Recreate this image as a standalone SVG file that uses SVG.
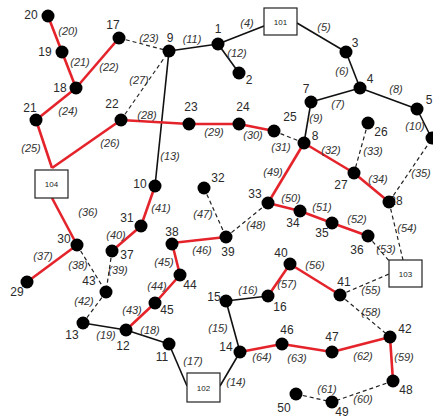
<svg xmlns="http://www.w3.org/2000/svg" width="433" height="420" viewBox="0 0 433 420">
<style>
.bg{fill:#fff}
.k{stroke:#111;stroke-width:1.6;fill:none}
.r{stroke:#e4232b;stroke-width:2.6;fill:none}
.d{stroke:#222;stroke-width:1.2;stroke-dasharray:4,3;fill:none}
.n{fill:#000}
.nl{font-family:"Liberation Sans",Arial,sans-serif;font-size:12px;fill:#2a2a2a;text-anchor:middle}
.el{font-family:"Liberation Sans",Arial,sans-serif;font-size:11px;font-style:italic;fill:#333;text-anchor:middle}
.bx{fill:#fff;stroke:#222;stroke-width:1.2}
.bt{font-family:"Liberation Sans",Arial,sans-serif;font-size:8px;fill:#222;text-anchor:middle}
</style>
<rect class="bg" x="0" y="0" width="433" height="420"/>
<g id="connectors">
<line class="k" x1="218" y1="44" x2="264" y2="26"/>
<line class="k" x1="297" y1="23" x2="346" y2="52"/>
<line class="k" x1="346" y1="52" x2="360" y2="88"/>
<line class="k" x1="360" y1="88" x2="311" y2="102"/>
<line class="k" x1="360" y1="88" x2="417" y2="109"/>
<line class="k" x1="311" y1="102" x2="304" y2="143"/>
<line class="k" x1="417" y1="109" x2="431" y2="137"/>
<line class="k" x1="169" y1="51" x2="218" y2="44"/>
<line class="k" x1="218" y1="44" x2="239" y2="73"/>
<line class="k" x1="169" y1="51" x2="155" y2="186"/>
<line class="k" x1="220" y1="386" x2="240" y2="352"/>
<line class="k" x1="226" y1="301" x2="240" y2="352"/>
<line class="k" x1="226" y1="301" x2="268" y2="296"/>
<line class="k" x1="169" y1="344" x2="187" y2="386"/>
<line class="k" x1="126" y1="330" x2="169" y2="344"/>
<line class="k" x1="83" y1="323" x2="126" y2="330"/>
<line class="r" x1="48" y1="16" x2="62" y2="52"/>
<line class="r" x1="62" y1="52" x2="76" y2="88"/>
<line class="r" x1="76" y1="88" x2="119" y2="38"/>
<line class="r" x1="76" y1="88" x2="36" y2="120"/>
<line class="r" x1="36" y1="120" x2="52" y2="168"/>
<line class="r" x1="52" y1="168" x2="121" y2="120"/>
<line class="r" x1="121" y1="120" x2="189" y2="124"/>
<line class="r" x1="189" y1="124" x2="239" y2="124"/>
<line class="r" x1="239" y1="124" x2="274" y2="131"/>
<line class="r" x1="304" y1="143" x2="354" y2="173"/>
<line class="r" x1="354" y1="173" x2="389" y2="202"/>
<line class="r" x1="52" y1="198" x2="77" y2="245"/>
<line class="r" x1="77" y1="245" x2="27" y2="282"/>
<line class="r" x1="141" y1="226" x2="112" y2="251"/>
<line class="r" x1="155" y1="186" x2="141" y2="226"/>
<line class="r" x1="126" y1="330" x2="155" y2="303"/>
<line class="r" x1="155" y1="303" x2="180" y2="275"/>
<line class="r" x1="180" y1="275" x2="172" y2="243"/>
<line class="r" x1="172" y1="243" x2="226" y2="237"/>
<line class="r" x1="304" y1="143" x2="268" y2="203"/>
<line class="r" x1="268" y1="203" x2="300" y2="211"/>
<line class="r" x1="300" y1="211" x2="332" y2="223"/>
<line class="r" x1="332" y1="223" x2="368" y2="236"/>
<line class="r" x1="290" y1="264" x2="340" y2="295"/>
<line class="r" x1="290" y1="264" x2="268" y2="296"/>
<line class="r" x1="390" y1="337" x2="393" y2="381"/>
<line class="r" x1="390" y1="337" x2="332" y2="352"/>
<line class="r" x1="332" y1="352" x2="282" y2="344"/>
<line class="r" x1="282" y1="344" x2="240" y2="352"/>
<line class="d" x1="119" y1="38" x2="169" y2="51"/>
<line class="d" x1="121" y1="120" x2="169" y2="51"/>
<line class="d" x1="274" y1="131" x2="304" y2="143"/>
<line class="d" x1="368" y1="123" x2="354" y2="173"/>
<line class="d" x1="431" y1="140" x2="389" y2="202"/>
<line class="d" x1="77" y1="245" x2="106" y2="292"/>
<line class="d" x1="112" y1="251" x2="106" y2="292"/>
<line class="d" x1="106" y1="292" x2="83" y2="323"/>
<line class="d" x1="204" y1="188" x2="226" y2="237"/>
<line class="d" x1="226" y1="237" x2="268" y2="203"/>
<line class="d" x1="368" y1="236" x2="390" y2="262"/>
<line class="d" x1="389" y1="202" x2="403" y2="260"/>
<line class="d" x1="340" y1="295" x2="389" y2="274"/>
<line class="d" x1="340" y1="295" x2="390" y2="337"/>
<line class="d" x1="393" y1="381" x2="332" y2="402"/>
<line class="d" x1="296" y1="394" x2="332" y2="402"/>
<text class="el" x="247" y="27">(4)</text>
<text class="el" x="324" y="31">(5)</text>
<text class="el" x="342" y="75">(6)</text>
<text class="el" x="338" y="108">(7)</text>
<text class="el" x="396" y="93">(8)</text>
<text class="el" x="316" y="122">(9)</text>
<text class="el" x="415" y="130">(10)</text>
<text class="el" x="192" y="43">(11)</text>
<text class="el" x="237" y="57">(12)</text>
<text class="el" x="170" y="160">(13)</text>
<text class="el" x="236" y="386">(14)</text>
<text class="el" x="218" y="332">(15)</text>
<text class="el" x="248" y="294">(16)</text>
<text class="el" x="193" y="365">(17)</text>
<text class="el" x="150" y="334">(18)</text>
<text class="el" x="106" y="339">(19)</text>
<text class="el" x="68" y="35">(20)</text>
<text class="el" x="80" y="66">(21)</text>
<text class="el" x="109" y="71">(22)</text>
<text class="el" x="149" y="42">(23)</text>
<text class="el" x="68" y="115">(24)</text>
<text class="el" x="31" y="152">(25)</text>
<text class="el" x="110" y="147">(26)</text>
<text class="el" x="139" y="84">(27)</text>
<text class="el" x="147" y="119">(28)</text>
<text class="el" x="214" y="136">(29)</text>
<text class="el" x="253" y="139">(30)</text>
<text class="el" x="281" y="151">(31)</text>
<text class="el" x="331" y="154">(32)</text>
<text class="el" x="373" y="155">(33)</text>
<text class="el" x="378" y="183">(34)</text>
<text class="el" x="421" y="177">(35)</text>
<text class="el" x="88" y="216">(36)</text>
<text class="el" x="43" y="260">(37)</text>
<text class="el" x="78" y="269">(38)</text>
<text class="el" x="118" y="274">(39)</text>
<text class="el" x="116" y="239">(40)</text>
<text class="el" x="161" y="212">(41)</text>
<text class="el" x="84" y="305">(42)</text>
<text class="el" x="132" y="314">(43)</text>
<text class="el" x="157" y="290">(44)</text>
<text class="el" x="164" y="266">(45)</text>
<text class="el" x="202" y="254">(46)</text>
<text class="el" x="203" y="218">(47)</text>
<text class="el" x="256" y="229">(48)</text>
<text class="el" x="273" y="176">(49)</text>
<text class="el" x="291" y="202">(50)</text>
<text class="el" x="322" y="211">(51)</text>
<text class="el" x="357" y="223">(52)</text>
<text class="el" x="386" y="253">(53)</text>
<text class="el" x="407" y="232">(54)</text>
<text class="el" x="371" y="294">(55)</text>
<text class="el" x="315" y="269">(56)</text>
<text class="el" x="287" y="288">(57)</text>
<text class="el" x="371" y="316">(58)</text>
<text class="el" x="404" y="361">(59)</text>
<text class="el" x="363" y="403">(60)</text>
<text class="el" x="327" y="393">(61)</text>
<text class="el" x="363" y="360">(62)</text>
<text class="el" x="297" y="362">(63)</text>
<text class="el" x="262" y="361">(64)</text>
</g>
<g id="box101"><rect class="bx" x="264" y="8" width="33" height="27"/><text class="bt" x="280.5" y="24.5">101</text></g>
<g id="box102"><rect class="bx" x="187" y="373" width="33" height="29"/><text class="bt" x="203.5" y="390.5">102</text></g>
<g id="box103"><rect class="bx" x="389" y="260" width="33" height="27"/><text class="bt" x="405.5" y="276.5">103</text></g>
<g id="box104"><rect class="bx" x="35" y="170" width="33" height="28"/><text class="bt" x="51.5" y="187">104</text></g>
<g id="node1"><circle class="n" cx="218" cy="44" r="6.5"/><text class="nl" x="218" y="33">1</text></g>
<g id="node2"><circle class="n" cx="239" cy="73" r="6.5"/><text class="nl" x="249" y="84">2</text></g>
<g id="node3"><circle class="n" cx="346" cy="52" r="6.5"/><text class="nl" x="355" y="47">3</text></g>
<g id="node4"><circle class="n" cx="360" cy="88" r="6.5"/><text class="nl" x="370" y="83">4</text></g>
<g id="node5"><circle class="n" cx="417" cy="109" r="6.5"/><text class="nl" x="429" y="104">5</text></g>
<g id="node6"><circle class="n" cx="432" cy="138" r="6.5"/></g>
<g id="node7"><circle class="n" cx="311" cy="102" r="6.5"/><text class="nl" x="306" y="93">7</text></g>
<g id="node8"><circle class="n" cx="304" cy="143" r="6.5"/><text class="nl" x="315" y="140">8</text></g>
<g id="node9"><circle class="n" cx="169" cy="51" r="6.5"/><text class="nl" x="170" y="42">9</text></g>
<g id="node10"><circle class="n" cx="155" cy="186" r="6.5"/><text class="nl" x="140" y="188">10</text></g>
<g id="node11"><circle class="n" cx="169" cy="344" r="6.5"/><text class="nl" x="162" y="361">11</text></g>
<g id="node12"><circle class="n" cx="126" cy="330" r="6.5"/><text class="nl" x="123" y="350">12</text></g>
<g id="node13"><circle class="n" cx="83" cy="323" r="6.5"/><text class="nl" x="72" y="339">13</text></g>
<g id="node14"><circle class="n" cx="240" cy="352" r="6.5"/><text class="nl" x="226" y="351">14</text></g>
<g id="node15"><circle class="n" cx="226" cy="301" r="6.5"/><text class="nl" x="214" y="301">15</text></g>
<g id="node16"><circle class="n" cx="268" cy="296" r="6.5"/><text class="nl" x="280" y="311">16</text></g>
<g id="node17"><circle class="n" cx="119" cy="38" r="6.5"/><text class="nl" x="113" y="29">17</text></g>
<g id="node18"><circle class="n" cx="76" cy="88" r="6.5"/><text class="nl" x="60" y="92">18</text></g>
<g id="node19"><circle class="n" cx="62" cy="52" r="6.5"/><text class="nl" x="45" y="56">19</text></g>
<g id="node20"><circle class="n" cx="48" cy="16" r="6.5"/><text class="nl" x="31" y="19">20</text></g>
<g id="node21"><circle class="n" cx="36" cy="120" r="6.5"/><text class="nl" x="30" y="112">21</text></g>
<g id="node22"><circle class="n" cx="121" cy="120" r="6.5"/><text class="nl" x="112" y="108">22</text></g>
<g id="node23"><circle class="n" cx="189" cy="124" r="6.5"/><text class="nl" x="191" y="111">23</text></g>
<g id="node24"><circle class="n" cx="239" cy="124" r="6.5"/><text class="nl" x="243" y="111">24</text></g>
<g id="node25"><circle class="n" cx="274" cy="131" r="6.5"/><text class="nl" x="290" y="121">25</text></g>
<g id="node26"><circle class="n" cx="368" cy="123" r="6.5"/><text class="nl" x="381" y="136">26</text></g>
<g id="node27"><circle class="n" cx="354" cy="173" r="6.5"/><text class="nl" x="341" y="189">27</text></g>
<g id="node28"><text class="nl" x="396" y="205">28</text><circle class="n" cx="389" cy="202" r="6.5"/></g>
<g id="node29"><circle class="n" cx="27" cy="282" r="6.5"/><text class="nl" x="17" y="296">29</text></g>
<g id="node30"><circle class="n" cx="77" cy="245" r="6.5"/><text class="nl" x="64" y="243">30</text></g>
<g id="node31"><circle class="n" cx="141" cy="226" r="6.5"/><text class="nl" x="127" y="222">31</text></g>
<g id="node32"><circle class="n" cx="204" cy="188" r="6.5"/><text class="nl" x="218" y="182">32</text></g>
<g id="node33"><circle class="n" cx="268" cy="203" r="6.5"/><text class="nl" x="255" y="198">33</text></g>
<g id="node34"><circle class="n" cx="300" cy="211" r="6.5"/><text class="nl" x="293" y="227">34</text></g>
<g id="node35"><circle class="n" cx="332" cy="223" r="6.5"/><text class="nl" x="322" y="237">35</text></g>
<g id="node36"><circle class="n" cx="368" cy="236" r="6.5"/><text class="nl" x="357" y="254">36</text></g>
<g id="node37"><circle class="n" cx="112" cy="251" r="6.5"/><text class="nl" x="127" y="259">37</text></g>
<g id="node38"><circle class="n" cx="172" cy="244" r="6.5"/><text class="nl" x="172" y="236">38</text></g>
<g id="node39"><circle class="n" cx="226" cy="237" r="6.5"/><text class="nl" x="228" y="256">39</text></g>
<g id="node40"><circle class="n" cx="290" cy="264" r="6.5"/><text class="nl" x="281" y="257">40</text></g>
<g id="node41"><circle class="n" cx="340" cy="295" r="6.5"/><text class="nl" x="344" y="286">41</text></g>
<g id="node42"><circle class="n" cx="390" cy="337" r="6.5"/><text class="nl" x="405" y="333">42</text></g>
<g id="node43"><circle class="n" cx="106" cy="292" r="6.5"/><text class="nl" x="89" y="285">43</text></g>
<g id="node44"><circle class="n" cx="180" cy="275" r="6.5"/><text class="nl" x="190" y="289">44</text></g>
<g id="node45"><circle class="n" cx="155" cy="303" r="6.5"/><text class="nl" x="167" y="314">45</text></g>
<g id="node46"><circle class="n" cx="282" cy="344" r="6.5"/><text class="nl" x="287" y="334">46</text></g>
<g id="node47"><circle class="n" cx="332" cy="352" r="6.5"/><text class="nl" x="332" y="341">47</text></g>
<g id="node48"><circle class="n" cx="393" cy="381" r="6.5"/><text class="nl" x="406" y="394">48</text></g>
<g id="node49"><circle class="n" cx="332" cy="402" r="6.5"/><text class="nl" x="342" y="416">49</text></g>
<g id="node50"><circle class="n" cx="296" cy="394" r="6.5"/><text class="nl" x="284" y="412">50</text></g>
</svg>
